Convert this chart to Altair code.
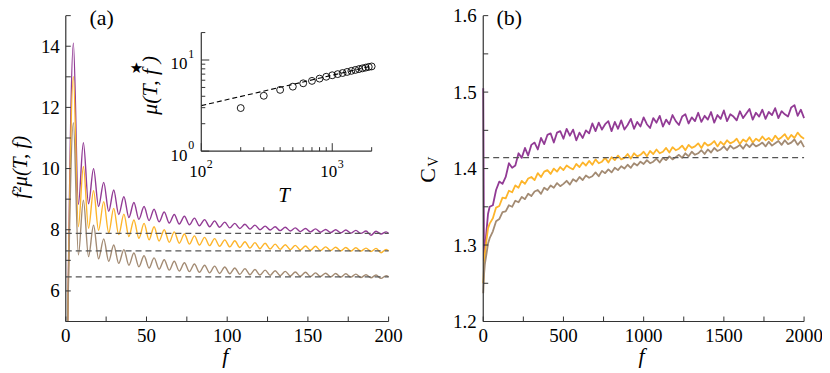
import altair as alt
import pandas as pd

FONT = "Liberation Serif, Times New Roman, Times, serif"
AX = "#333333"
SERIES = ["3_purple", "2_gold", "1_brown"]
COLORS = ["#923b95", "#fdb52b", "#a38b73"]

# ---------------- panel (a): f^2 mu(T,f) vs f (extrema of the oscillations)
A_F = [1.2, 4.7, 7.8, 10.9, 14.1, 17.2, 20.3, 23.5, 26.6, 29.7, 32.8, 36.0, 39.1, 42.2, 45.3,
       48.5, 51.6, 54.7, 57.8, 61.0, 64.1, 67.2, 70.3, 73.5, 76.6, 79.7, 82.8, 86.0, 89.1,
       92.2, 95.3, 98.5, 101.6, 104.7, 107.8, 111.0, 114.1, 117.2, 120.3, 123.5, 126.6,
       129.7, 132.8, 136.0, 139.1, 142.2, 145.3, 148.5, 151.6, 154.7, 157.8, 161.0, 164.1,
       167.2, 170.3, 173.5, 176.6, 179.7, 182.8, 186.0, 189.1, 192.2, 195.3, 198.5, 200.0]
A_PURPLE = [5.0, 14.1, 8.83, 10.85, 8.85, 10.0, 8.76, 9.55, 8.60, 9.30, 8.50, 9.08, 8.40, 8.89,
            8.34, 8.76, 8.30, 8.67, 8.26, 8.58, 8.22, 8.50, 8.19, 8.44, 8.16, 8.38, 8.13, 8.33,
            8.10, 8.29, 8.08, 8.25, 8.06, 8.21, 8.04, 8.18, 8.02, 8.15, 8.00, 8.12, 7.99, 8.10,
            7.97, 8.08, 7.96, 8.06, 7.94, 8.04, 7.93, 8.03, 7.92, 8.01, 7.91, 8.00, 7.90, 7.99,
            7.89, 7.98, 7.88, 7.96, 7.82, 7.95, 7.86, 7.93, 7.88]
A_GOLD = [5.0, 13.0, 8.10, 10.07, 8.05, 9.28, 7.98, 8.92, 7.90, 8.70, 7.84, 8.51, 7.78, 8.32,
          7.72, 8.21, 7.67, 8.10, 7.63, 8.00, 7.59, 7.93, 7.56, 7.86, 7.53, 7.80, 7.50, 7.75,
          7.48, 7.71, 7.46, 7.67, 7.44, 7.64, 7.42, 7.61, 7.40, 7.58, 7.38, 7.56, 7.37, 7.53,
          7.36, 7.51, 7.35, 7.49, 7.34, 7.47, 7.33, 7.46, 7.32, 7.44, 7.32, 7.43, 7.31, 7.42,
          7.30, 7.41, 7.30, 7.40, 7.29, 7.39, 7.25, 7.36, 7.31]
A_BROWN = [5.0, 11.5, 7.18, 8.97, 7.12, 8.15, 7.05, 7.70, 6.97, 7.50, 6.90, 7.35, 6.84, 7.24,
           6.79, 7.15, 6.75, 7.08, 6.71, 7.02, 6.68, 6.97, 6.65, 6.92, 6.63, 6.88, 6.61, 6.84,
           6.59, 6.81, 6.57, 6.78, 6.56, 6.75, 6.54, 6.73, 6.53, 6.70, 6.52, 6.68, 6.51, 6.66,
           6.50, 6.64, 6.49, 6.62, 6.48, 6.61, 6.47, 6.59, 6.47, 6.58, 6.46, 6.57, 6.45, 6.56,
           6.45, 6.55, 6.44, 6.53, 6.43, 6.52, 6.41, 6.50, 6.46]
A_LIMITS = [7.88, 7.31, 6.46]
A_YTICKS = [5, 6, 7, 8, 9, 10, 11, 12, 13, 14, 15]
A_YLABELS = [6, 8, 10, 12, 14]
A_XTICKS = [0, 25, 50, 75, 100, 125, 150, 175, 200]
A_XLABELS = [0, 50, 100, 150, 200]

# ---------------- inset: mu(T, f*) vs T
INS_T = [200, 300, 400, 500, 600, 700, 800, 900, 1000, 1100, 1200, 1300, 1400, 1500,
         1600, 1700, 1800, 1900, 2000]
INS_MU = [2.97, 4.05, 4.70, 5.10, 5.55, 5.90, 6.25, 6.55, 6.80, 7.00, 7.20, 7.40, 7.60,
          7.78, 7.95, 8.10, 8.25, 8.40, 8.50]
INS_FIT_T = [100, 2000]
INS_FIT_MU = [3.16, 8.58]
INS_XMAJOR = [100, 1000]
INS_XMINOR = [200, 300, 400, 500, 600, 700, 800, 900, 2000]
INS_YMAJOR = [1, 10]
INS_YMINOR = [2, 3, 4, 5, 6, 7, 8, 9, 20]
INS_XLAB = [(100, "2"), (1000, "3")]
INS_YLAB = [(1, "0"), (10, "1")]

# ---------------- panel (b): C_V vs f
B_F = [0, 5, 10, 20, 30] + list(range(40, 2001, 20))
B_PURPLE = [1.505, 1.280, 1.292, 1.318, 1.341,
            1.350, 1.352, 1.372, 1.383, 1.380, 1.389, 1.407, 1.401, 1.404, 1.420,
            1.414, 1.427, 1.417, 1.431, 1.434, 1.425, 1.440, 1.432, 1.444, 1.446,
            1.434, 1.447, 1.449, 1.439, 1.452, 1.443, 1.451, 1.437, 1.447, 1.440,
            1.450, 1.446, 1.459, 1.449, 1.460, 1.451, 1.458, 1.462, 1.449, 1.461,
            1.452, 1.463, 1.451, 1.457, 1.465, 1.452, 1.461, 1.455, 1.467,
            1.458, 1.453, 1.466, 1.460, 1.469, 1.455, 1.464, 1.458, 1.470, 1.462,
            1.457, 1.468, 1.471, 1.459, 1.467, 1.462, 1.473, 1.461, 1.469, 1.464,
            1.474, 1.460, 1.470, 1.465, 1.476, 1.462, 1.471, 1.468, 1.463, 1.475,
            1.466, 1.472, 1.478, 1.464, 1.473, 1.468, 1.477, 1.465, 1.474, 1.470,
            1.479, 1.466, 1.475, 1.471, 1.468, 1.480, 1.483, 1.469, 1.477, 1.466]
B_GOLD = [1.250, 1.272, 1.288, 1.306, 1.322,
          1.328, 1.335, 1.349, 1.351, 1.362, 1.361, 1.371, 1.369, 1.378, 1.375,
          1.384, 1.380, 1.387, 1.389, 1.385, 1.394, 1.389, 1.396, 1.398, 1.393,
          1.400, 1.396, 1.402, 1.398, 1.404, 1.401, 1.399, 1.406, 1.402, 1.408,
          1.404, 1.410, 1.405, 1.412, 1.407, 1.409, 1.414, 1.408, 1.415, 1.411,
          1.417, 1.412, 1.414, 1.419, 1.413, 1.420, 1.416, 1.418, 1.422,
          1.416, 1.423, 1.419, 1.425, 1.420, 1.422, 1.427, 1.421, 1.428, 1.424,
          1.426, 1.430, 1.424, 1.431, 1.427, 1.429, 1.433, 1.427, 1.434, 1.430,
          1.432, 1.436, 1.429, 1.435, 1.431, 1.437, 1.433, 1.435, 1.439, 1.432,
          1.438, 1.435, 1.441, 1.434, 1.439, 1.436, 1.442, 1.437, 1.440, 1.436,
          1.443, 1.438, 1.441, 1.445, 1.438, 1.444, 1.440, 1.447, 1.442, 1.439]
B_BROWN = [1.237, 1.262, 1.275, 1.288, 1.302,
           1.309, 1.318, 1.331, 1.334, 1.343, 1.344, 1.352, 1.350, 1.358, 1.356,
           1.363, 1.360, 1.367, 1.364, 1.370, 1.372, 1.367, 1.375, 1.372, 1.378,
           1.375, 1.381, 1.377, 1.380, 1.384, 1.379, 1.386, 1.383, 1.389, 1.385,
           1.391, 1.388, 1.390, 1.395, 1.390, 1.397, 1.394, 1.399, 1.395, 1.401,
           1.398, 1.403, 1.400, 1.405, 1.401, 1.407, 1.404, 1.409, 1.406,
           1.411, 1.407, 1.409, 1.413, 1.408, 1.414, 1.411, 1.416, 1.412, 1.415,
           1.418, 1.414, 1.420, 1.416, 1.422, 1.418, 1.420, 1.424, 1.419, 1.425,
           1.421, 1.427, 1.423, 1.425, 1.429, 1.424, 1.430, 1.426, 1.428, 1.431,
           1.426, 1.432, 1.428, 1.433, 1.429, 1.431, 1.434, 1.429, 1.435, 1.430,
           1.433, 1.436, 1.431, 1.437, 1.432, 1.434, 1.438, 1.431, 1.436, 1.428]
B_LIMIT = 1.4142
B_YTICKS = [1.2, 1.25, 1.3, 1.35, 1.4, 1.45, 1.5, 1.55, 1.6]
B_YLABELS = [1.2, 1.3, 1.4, 1.5, 1.6]
B_XTICKS = [0, 250, 500, 750, 1000, 1250, 1500, 1750, 2000]
B_XLABELS = [0, 500, 1000, 1500, 2000]

for arr in (A_PURPLE, A_GOLD, A_BROWN):
    assert len(arr) == len(A_F)
for arr in (B_PURPLE, B_GOLD, B_BROWN):
    assert len(arr) == len(B_F), (len(arr), len(B_F))
assert len(INS_MU) == len(INS_T)

# ---------------- scales (pixel ranges place the panels)
XA = alt.Scale(domain=[0, 200], range=[58, 382], nice=False, zero=False)
YA = alt.Scale(domain=[5, 15], range=[314, 7], nice=False, zero=False)
XB = alt.Scale(domain=[0, 2000], range=[477, 799], nice=False, zero=False)
YB = alt.Scale(domain=[1.2, 1.6], range=[314, 7], nice=False, zero=False)
XI = alt.Scale(type="log", domain=[100, 2000], range=[194, 365], nice=False)
YI = alt.Scale(type="log", domain=[1, 20], range=[143, 24], nice=False)
CSCALE = alt.Scale(domain=SERIES, range=COLORS)

layers = []


def xq(field, scale):
    return alt.X(field, type="quantitative", scale=scale, axis=None)


def yq(field, scale):
    return alt.Y(field, type="quantitative", scale=scale, axis=None)


def axis_lines(x0, x1, y0, y1, xs, ys):
    df = pd.DataFrame({"x": [x0, x0], "x2": [x0, x1], "y": [y0, y0], "y2": [y1, y0]})
    return alt.Chart(df).mark_rule(color=AX, strokeWidth=1.2).encode(
        x=xq("x", xs), x2="x2:Q", y=yq("y", ys), y2="y2:Q")


def yticks(vals, ys, px0, length):
    return alt.Chart(pd.DataFrame({"v": vals})).mark_rule(color=AX, strokeWidth=1).encode(
        y=yq("v", ys), x=alt.value(px0), x2=alt.value(px0 + length))


def xticks(vals, xs, py0, length):
    return alt.Chart(pd.DataFrame({"v": vals})).mark_rule(color=AX, strokeWidth=1).encode(
        x=xq("v", xs), y=alt.value(py0), y2=alt.value(py0 - length))


def ylabels(vals, ys, xs, x0, dx, fmt):
    return alt.Chart(pd.DataFrame({"v": vals})).mark_text(
        font=FONT, fontSize=19, align="right", baseline="alphabetic", dx=dx, dy=6.5,
        color="black").encode(
        y=yq("v", ys), x=alt.XDatum(x0, scale=xs, axis=None),
        text=alt.Text("v:Q", format=fmt))


def xlabels(vals, xs, ys, y0):
    return alt.Chart(pd.DataFrame({"v": vals})).mark_text(
        font=FONT, fontSize=19, align="center", baseline="alphabetic", dy=21,
        color="black").encode(
        x=xq("v", xs), y=alt.YDatum(y0, scale=ys, axis=None),
        text=alt.Text("v:Q", format="d"))


def label(text, x, y, size=22, style="normal", angle=0, font=FONT, align="center",
          baseline="alphabetic"):
    kw = dict(font=font, fontSize=size, fontStyle=style, align=align, baseline=baseline,
              color="black")
    if angle:
        kw["angle"] = angle
    return alt.Chart(pd.DataFrame({"t": [text]})).mark_text(**kw).encode(
        x=alt.value(x), y=alt.value(y), text="t:N")


# ---- panel (a)
n = len(A_F)
dfa = pd.DataFrame({"f": A_F * 3, "v": A_PURPLE + A_GOLD + A_BROWN,
                    "s": [SERIES[0]] * n + [SERIES[1]] * n + [SERIES[2]] * n})
layers.append(alt.Chart(dfa).mark_line(strokeWidth=1.4, interpolate="monotone").encode(
    x=xq("f", XA), y=yq("v", YA),
    color=alt.Color("s:N", scale=CSCALE, legend=None)))
layers.append(alt.Chart(pd.DataFrame({"v": A_LIMITS, "x0": [0] * 3, "x1": [200] * 3}))
              .mark_rule(color="#555555", strokeWidth=1.3, strokeDash=[6, 4]).encode(
    y=yq("v", YA), x=xq("x0", XA), x2="x1:Q"))
layers.append(axis_lines(0, 200, 5, 15, XA, YA))
layers.append(yticks(A_YTICKS, YA, 58, 5))
layers.append(xticks(A_XTICKS, XA, 314, 5))
layers.append(ylabels(A_YLABELS, YA, XA, 0, -6, "d"))
layers.append(xlabels(A_XLABELS, XA, YA, 5))
layers.append(label("(a)", 94, 16, size=22))
layers.append(label("f", 218, 356, style="italic"))
layers.append(label("f²μ(T, f)", 19, 159, size=21, style="italic", angle=270))

# ---- inset
layers.append(alt.Chart(pd.DataFrame({"t": INS_FIT_T, "m": INS_FIT_MU})).mark_line(
    color="black", strokeWidth=1.1, strokeDash=[5, 3]).encode(
    x=xq("t", XI), y=yq("m", YI)))
layers.append(alt.Chart(pd.DataFrame({"t": INS_T, "m": INS_MU})).mark_point(
    shape="circle", filled=False, color="black", size=48, strokeWidth=0.9, opacity=1).encode(
    x=xq("t", XI), y=yq("m", YI)))
layers.append(axis_lines(100, 2000, 1, 20, XI, YI))
layers.append(yticks(INS_YMAJOR, YI, 194, 8))
layers.append(yticks(INS_YMINOR, YI, 194, 4))
layers.append(xticks(INS_XMAJOR, XI, 143, 8))
layers.append(xticks(INS_XMINOR, XI, 143, 4))
ixl = pd.DataFrame({"v": [a for a, _ in INS_XLAB], "b": ["10"] * 2, "e": [b for _, b in INS_XLAB]})
iyl = pd.DataFrame({"v": [a for a, _ in INS_YLAB], "b": ["10"] * 2, "e": [b for _, b in INS_YLAB]})
layers.append(alt.Chart(ixl).mark_text(font=FONT, fontSize=17, align="right",
                                        baseline="alphabetic", dx=5, dy=26).encode(
    x=xq("v", XI), y=alt.YDatum(1, scale=YI, axis=None), text="b:N"))
layers.append(alt.Chart(ixl).mark_text(font=FONT, fontSize=12, align="left",
                                        baseline="alphabetic", dx=5.5, dy=17).encode(
    x=xq("v", XI), y=alt.YDatum(1, scale=YI, axis=None), text="e:N"))
layers.append(alt.Chart(iyl).mark_text(font=FONT, fontSize=17, align="right",
                                        baseline="alphabetic", dx=-14, dy=9.5).encode(
    y=yq("v", YI), x=alt.XDatum(100, scale=XI, axis=None), text="b:N"))
layers.append(alt.Chart(iyl).mark_text(font=FONT, fontSize=12, align="left",
                                        baseline="alphabetic", dx=-13, dy=-2).encode(
    y=yq("v", YI), x=alt.XDatum(100, scale=XI, axis=None), text="e:N"))
layers.append(label("T", 277, 194, size=21, style="italic"))
layers.append(label("μ(T, f )", 149.5, 77, size=22, style="italic", angle=270))
layers.append(label("★", 129, 60, size=15, font="DejaVu Sans", baseline="middle"))

# ---- panel (b)
m = len(B_F)
dfb = pd.DataFrame({"f": B_F * 3, "v": B_PURPLE + B_GOLD + B_BROWN,
                    "s": [SERIES[0]] * m + [SERIES[1]] * m + [SERIES[2]] * m})
layers.append(alt.Chart(dfb).mark_line(strokeWidth=1.8, strokeJoin="round").encode(
    x=xq("f", XB), y=yq("v", YB),
    color=alt.Color("s:N", scale=CSCALE, legend=None)))
layers.append(alt.Chart(pd.DataFrame({"v": [B_LIMIT], "x0": [0], "x1": [2000]}))
              .mark_rule(color="#555555", strokeWidth=1.3, strokeDash=[6, 4]).encode(
    y=yq("v", YB), x=xq("x0", XB), x2="x1:Q"))
layers.append(axis_lines(0, 2000, 1.2, 1.6, XB, YB))
layers.append(yticks(B_YTICKS, YB, 477, 5))
layers.append(xticks(B_XTICKS, XB, 314, 5))
layers.append(ylabels(B_YLABELS, YB, XB, 0, -6.5, ".1f"))
layers.append(xlabels(B_XLABELS, XB, YB, 1.2))
layers.append(label("(b)", 503, 16, size=22))
layers.append(label("f", 636, 356, style="italic"))
layers.append(label("C", 428.7, 167.5, size=22, angle=270))
layers.append(label("V", 432, 153.5, size=14, angle=270))

chart = alt.layer(*layers).resolve_scale(x="independent", y="independent").properties(
    width=817, height=362, padding=0, autosize=alt.AutoSizeParams(type="none")
).configure_view(stroke=None)

chart.save("out.html", embed_options={"renderer": "svg", "actions": False})
